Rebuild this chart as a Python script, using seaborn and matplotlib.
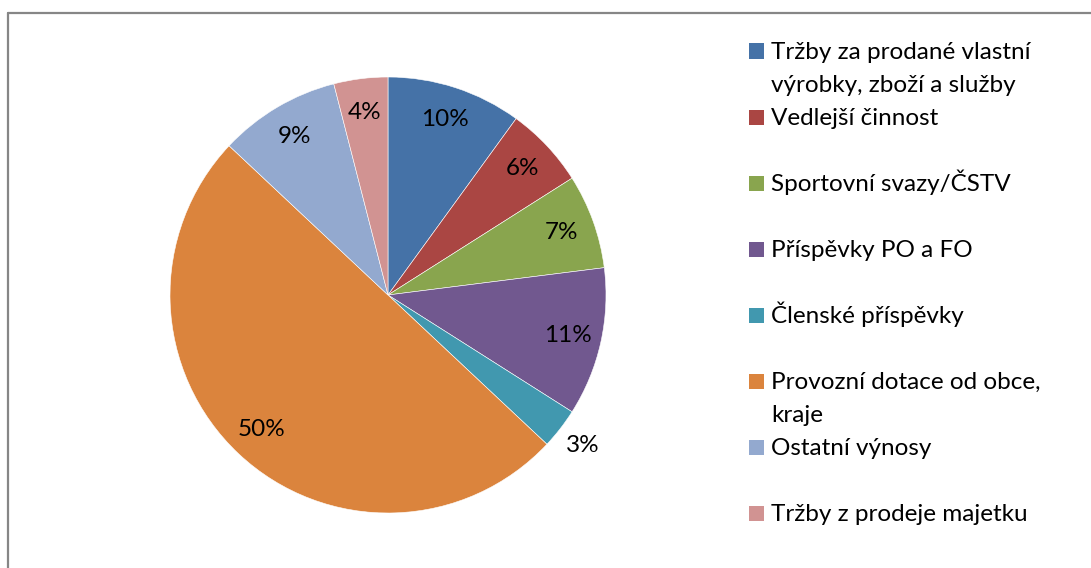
import matplotlib
matplotlib.use('Agg')
import numpy as np
import seaborn as sns
import matplotlib.pyplot as plt
from matplotlib.patches import Rectangle
from matplotlib.lines import Line2D

W, H, DPI = 1091, 568, 100

categories = [
    'Tržby za prodané vlastní\nvýrobky, zboží a služby',
    'Vedlejší činnost',
    'Sportovní svazy/ČSTV',
    'Příspěvky PO a FO',
    'Členské příspěvky',
    'Provozní dotace od obce,\nkraje',
    'Ostatní výnosy',
    'Tržby z prodeje majetku',
]
shares = [10, 6, 7, 11, 3, 50, 9, 4]
colors = ['#4572A7', '#AA4643', '#89A54E', '#71588F',
          '#4198AF', '#DB843D', '#93A9CF', '#D19392']


def px_x(x):
    return x / W


def px_y(y):
    return 1 - y / H


def main():
    sns.set_theme(style='white')
    plt.rcParams['font.family'] = ['Lato', 'DejaVu Sans']
    fs = 17.5

    fig = plt.figure(figsize=(W / DPI, H / DPI), dpi=DPI)
    fig.patch.set_facecolor('white')

    # pie: centre (388, 295), radius 218 px
    cx, cy, r = 388, 295, 218
    ax = fig.add_axes([px_x(cx - r), px_y(cy + r), 2 * r / W, 2 * r / H])
    wedges, texts, autotexts = ax.pie(
        shares, colors=colors, startangle=90, counterclock=False,
        autopct='%.0f%%', pctdistance=0.845, radius=1,
        wedgeprops={'edgecolor': 'white', 'linewidth': 0.4},
        textprops={'fontsize': fs, 'color': 'black'})
    ax.set_xlim(-1, 1)
    ax.set_ylim(-1, 1)
    ax.set_aspect('auto')
    ax.axis('off')

    # small slice label sits outside the pie
    small = int(np.argmin(shares))
    w = wedges[small]
    ang = np.deg2rad((w.theta1 + w.theta2) / 2)
    autotexts[small].set_position((1.13 * np.cos(ang), 1.13 * np.sin(ang)))

    # legend drawn by hand, one slot every 66 px
    for i, (lab, col) in enumerate(zip(categories, colors)):
        yc = 51 + 66 * i
        fig.add_artist(Rectangle((px_x(749), px_y(yc + 7.5)), 15 / W, 15 / H,
                                 transform=fig.transFigure, facecolor=col,
                                 edgecolor='none'))
        for j, line in enumerate(lab.split('\n')):
            fig.text(px_x(771), px_y(yc + 8 + 33 * j), line, fontsize=fs,
                     va='baseline', ha='left', color='black')

    # chart frame (only left and top edges are visible)
    frame = dict(color='#868686', linewidth=1.6, transform=fig.transFigure)
    fig.add_artist(Line2D([px_x(7.5), px_x(7.5)], [px_y(12.5), 0], **frame))
    fig.add_artist(Line2D([px_x(7.5), 1], [px_y(12.5), px_y(12.5)], **frame))

    fig.savefig('out.png', dpi=DPI)
    plt.close(fig)


if __name__ == '__main__':
    main()
